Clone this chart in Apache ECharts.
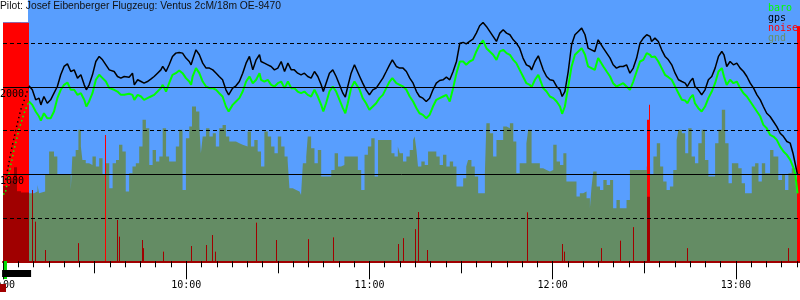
<!DOCTYPE html>
<html>
<head>
<meta charset="utf-8">
<script src="https://cdn.jsdelivr.net/npm/echarts@6/dist/echarts.min.js"></script>
<style>
  html, body {margin:0;padding:0;background:#fff;}
  #chart {width:800px;height:300px;}
</style>
</head>
<body>
<div id="chart"></div>
<script>
// time = minutes after 09:00, altitude in m
var timeLabels = ['9:00', '10:00', '11:00', '12:00', '13:00'];

var gpsTow = [[0.9,934],[2.5,1241],[4.2,1509],[5.8,1739],[7.4,1892],[8.5,2015]];
var baroTow = [[0,773],[0.7,773],[2.0,1011],[3.6,1279],[5.2,1509],[6.9,1700],[8.5,1835]];

var gpsTrack = [[8.5,2015],[9.6,1969],[10.7,1854],[11.8,1873],[12.4,1796],[13.4,1892],[14.5,1815],[15.6,1854],[16.7,1930],[17.8,2007],[18.9,2141],[20.0,2237],[21.1,2267],[22.2,2179],[23.3,2198],[24.4,2103],[25.5,2141],[26.6,2026],[27.3,1969],[28.2,2026],[29.3,2141],[30.4,2294],[31.5,2352],[32.6,2313],[33.7,2256],[34.8,2198],[36.4,2179],[37.5,2122],[38.6,2103],[39.7,2122],[41.3,2114],[42.4,2160],[43.0,2026],[44.1,2084],[45.2,2064],[46.2,2045],[47.3,2064],[48.4,2091],[49.5,2122],[50.6,2160],[51.7,2198],[52.3,2237],[53.4,2179],[54.4,2256],[55.5,2352],[56.6,2390],[57.7,2398],[58.8,2390],[59.9,2333],[61.0,2294],[61.6,2256],[62.1,2313],[63.2,2428],[64.3,2371],
  [65.4,2275],[66.5,2218],[67.6,2218],[68.7,2198],[69.8,2160],[70.8,2122],[71.9,2084],[73.0,1969],[73.9,1911],[75.2,1988],[76.3,2015],[77.4,2064],[78.5,2160],[79.6,2275],[80.7,2352],[81.8,2198],[82.9,2313],[84.0,2371],[84.5,2294],[85.6,2275],[86.7,2256],[87.8,2237],[88.9,2198],[90.0,2218],[91.1,2294],[92.2,2179],[93.3,2275],[94.4,2198],[95.4,2198],[96.5,2160],[97.6,2141],[98.7,2160],[99.8,2122],[100.9,2103],[102.0,2179],[103.1,2122],[104.2,2026],[104.9,1949],[105.8,2045],[106.9,2160],[108.0,2198],[109.1,2122],[110.2,2026],[111.3,1930],[112.1,1884],[112.9,2007],[114.0,2160],[115.1,2256],[115.7,2275],[116.8,2122],[117.8,2045],[118.9,1969],[120.0,1911],[121.1,1969],[122.2,1988],[123.3,2045],[124.4,2103],[125.5,2179],[126.6,2256],[127.5,2313],[128.8,2237],
  [129.9,2218],[131.0,2218],[132.1,2179],[133.2,2103],[134.3,2045],[135.4,1949],[136.4,1892],[137.5,1873],[138.6,1835],[139.7,1873],[140.8,1969],[141.9,2045],[143.0,2076],[144.1,2084],[145.2,2114],[146.3,2084],[147.4,2179],[148.5,2294],[149.6,2505],[150.7,2513],[151.7,2497],[152.8,2524],[153.9,2551],[155.0,2620],[156.1,2704],[157.2,2742],[158.3,2697],[159.4,2639],[160.5,2582],[161.6,2524],[162.7,2620],[163.8,2658],[164.9,2620],[166.0,2601],[167.1,2543],[168.1,2505],[169.2,2447],[170.3,2333],[171.4,2256],[172.5,2237],[173.1,2198],[174.2,2294],[175.3,2359],[175.8,2371],[176.9,2198],[178.0,2122],[179.1,2084],[180.2,2076],[181.3,2007],[182.4,1969],[183.1,1892],[184.0,1949],[185.1,2179],[186.2,2486],[187.3,2601],[188.4,2639],[189.5,2677],[190.6,2601],[191.6,2447],[192.7,2428],[193.8,2409],[194.9,2543],
  [195.5,2524],[196.6,2447],[197.7,2390],[198.8,2333],[199.8,2256],[200.9,2218],[202.0,2237],[203.1,2237],[204.2,2256],[205.3,2160],[206.4,2218],[207.5,2333],[208.6,2505],[209.7,2562],[210.8,2601],[211.9,2582],[212.4,2524],[213.5,2562],[214.6,2524],[215.7,2428],[216.8,2352],[217.9,2313],[219.0,2256],[220.1,2160],[221.2,2084],[222.3,2064],[223.4,2045],[224.1,2007],[225.0,2064],[225.9,2103],[226.6,2007],[227.7,1969],[228.8,1911],[229.9,1969],[231.0,2084],[232.1,2122],[233.2,2218],[234.3,2352],[235.4,2409],[236.1,2371],[237.0,2237],[238.1,2294],[239.2,2256],[240.3,2275],[241.4,2218],[242.5,2179],[243.6,2122],[244.7,2045],[245.8,1988],[246.9,1911],[248.0,1854],[249.0,1777],[250.1,1700],[251.2,1662],[252.3,1605],[253.4,1547],[254.5,1471],[255.6,1432],[256.7,1375],[257.8,1356],[258.7,1241],[259.4,1126],[260.2,992]];

var baroTrack = [[8.5,1835],[9.6,1796],[10.7,1720],[11.8,1662],[12.4,1616],[13.4,1700],[14.5,1643],[15.6,1643],[16.7,1720],[17.8,1873],[18.9,1969],[20.0,2026],[21.1,2053],[22.2,1969],[23.3,1969],[24.4,1911],[25.5,1930],[26.6,1854],[27.3,1777],[28.2,1835],[29.3,1930],[30.4,2084],[31.5,2141],[32.6,2103],[33.7,2064],[34.8,1988],[36.4,1969],[37.5,1949],[38.6,1911],[39.7,1911],[41.3,1923],[42.4,1911],[43.0,1854],[44.1,1911],[45.2,1892],[46.2,1854],[47.3,1873],[48.4,1892],[49.5,1911],[50.6,1949],[51.7,1988],[52.3,2026],[53.4,1949],[54.4,2045],[55.5,2141],[56.6,2160],[57.7,2191],[58.8,2160],[59.9,2103],[61.0,2064],[61.6,2026],[62.1,2122],[63.2,2218],[64.3,2160],
  [65.4,2064],[66.5,2007],[67.6,1988],[68.7,1988],[69.8,1969],[70.8,1930],[71.9,1892],[73.0,1777],[73.9,1720],[75.2,1796],[76.3,1835],[77.4,1873],[78.5,1949],[79.6,2064],[80.7,2122],[81.8,2045],[82.9,2084],[84.0,2160],[84.5,2084],[85.6,2064],[86.7,2084],[87.8,2026],[88.9,2007],[90.0,2045],[91.1,2064],[92.2,1988],[93.3,2064],[94.4,1988],[95.4,1988],[96.5,1949],[97.6,1930],[98.7,1949],[99.8,1911],[100.9,1892],[102.0,1969],[103.1,1892],[104.2,1796],[104.9,1720],[105.8,1815],[106.9,1949],[108.0,2007],[109.1,1949],[110.2,1854],[111.3,1758],[112.1,1700],[112.9,1815],[114.0,1988],[115.1,2064],[115.7,2045],[116.8,1969],[117.8,1873],[118.9,1815],[120.0,1739],[121.1,1777],[122.2,1815],[123.3,1873],[124.4,1911],[125.5,1988],[126.6,2064],[127.5,2103],[128.8,2045],
  [129.9,2026],[131.0,2007],[132.1,1969],[133.2,1892],[134.3,1835],[135.4,1758],[136.4,1700],[137.5,1681],[138.6,1643],[139.7,1681],[140.8,1777],[141.9,1854],[143.0,1873],[144.1,1892],[145.2,1911],[146.3,1835],[147.4,1988],[148.5,2160],[149.6,2294],[150.7,2294],[151.7,2256],[152.8,2294],[153.9,2313],[155.0,2409],[156.1,2486],[157.2,2536],[158.3,2447],[159.4,2409],[160.5,2371],[161.6,2313],[162.7,2409],[163.8,2428],[164.9,2390],[166.0,2371],[167.1,2313],[168.1,2275],[169.2,2198],[170.3,2122],[171.4,2045],[172.5,2026],[173.1,2000],[174.2,2084],[175.3,2141],[175.8,2160],[176.9,1988],[178.0,1949],[179.1,1892],[180.2,1873],[181.3,1835],[182.4,1777],[183.1,1693],[184.0,1777],[185.1,2007],[186.2,2237],[187.3,2371],[188.4,2409],[189.5,2447],[190.6,2371],[191.6,2237],[192.7,2218],[193.8,2198],[194.9,2333],
  [195.5,2313],[196.6,2237],[197.7,2179],[198.8,2122],[199.8,2045],[200.9,2007],[202.0,2026],[203.1,2045],[204.2,2007],[205.3,1969],[206.4,2064],[207.5,2179],[208.6,2294],[209.7,2313],[210.8,2390],[211.9,2371],[212.4,2344],[213.5,2352],[214.6,2294],[215.7,2218],[216.8,2141],[217.9,2114],[219.0,2084],[220.1,2007],[221.2,1930],[222.3,1854],[223.4,1846],[224.1,1815],[225.0,1873],[225.9,1911],[226.6,1815],[227.7,1758],[228.8,1720],[229.9,1777],[231.0,1873],[232.1,1949],[233.2,2045],[234.3,2179],[235.4,2218],[236.1,2122],[237.0,2026],[238.1,2084],[239.2,2045],[240.3,2064],[241.4,1988],[242.5,1930],[243.6,1892],[244.7,1835],[245.8,1777],[246.9,1720],[248.0,1662],[249.0,1566],[250.1,1528],[251.2,1451],[252.3,1432],[253.4,1394],[254.5,1317],[255.6,1260],[256.7,1222],[257.8,1164],[258.7,1088],[259.4,1011],[260.2,781]];

// terrain below the glider, value holds until the next point
var gndTrack = [[0,870],[1.0,920],[2.0,1060],[2.7,960],[3.5,870],[5.0,800],[7.0,780],[8.5,800],[9.1,781],[10.2,800],[11.3,877],[11.8,781],[12.4,800],[13.8,992],[15.1,1260],[16.7,1202],[17.8,992],[22.2,819],[22.7,1202],[23.8,1279],[24.7,1509],[25.5,1317],[26.0,1164],[27.1,1126],[28.2,1107],[29.3,1202],[30.4,1088],[31.5,1183],[32.6,992],[33.7,1126],[34.8,838],[35.9,1126],[37.0,1164],[38.0,1337],[39.1,1260],[40.2,800],[41.3,1011],[42.4,1088],[43.5,1126],[44.6,1317],[45.7,1624],[46.8,1528],[47.9,1107],[49.0,1279],[50.1,1145],[51.2,1202],[52.3,1528],[53.4,1202],[54.4,1145],[56.6,1317],[57.7,1509],[58.8,819],[59.9,1413],[61.0,1547],[61.9,1777],[63.2,1720],
  [64.3,1547],[64.8,1241],[65.4,1432],[66.5,1528],[67.6,1432],[68.7,1471],[69.7,1317],[70.8,1528],[71.9,1566],[73.0,1432],[74.1,1375],[76.3,1356],[77.4,1337],[78.5,1317],[80.1,1490],[81.2,1317],[82.3,1394],[83.4,1260],[84.5,1088],[85.6,1490],[86.7,1432],[87.8,1317],[88.9,1241],[90.0,1432],[91.1,1317],[92.2,1202],[93.2,1164],[93.8,838],[94.9,819],[96.0,800],[97.1,781],[97.6,762],[98.2,1126],[99.3,1202],[99.8,1432],[100.9,1298],[102.0,1126],[103.1,1279],[104.2,973],[107.5,1049],[108.6,1241],[109.7,1088],[110.7,1107],[111.8,1202],[116.2,1049],[117.3,819],[118.4,1222],[119.5,1317],[120.6,1413],[121.7,973],[122.8,1394],[127.2,1241],[128.2,1202],[129.3,1317],
  [129.9,1241],[131.0,1145],[132.1,1202],[133.2,1279],[134.3,1394],[134.8,1432],[135.4,1279],[135.9,1088],[137.0,1145],[138.1,1107],[139.2,1260],[141.9,1202],[143.0,1107],[144.1,1222],[145.2,1088],[146.3,1145],[147.4,1088],[148.5,858],[150.7,953],[151.7,1088],[152.3,1164],[153.4,1088],[154.5,973],[155.6,781],[157.8,1011],[158.3,1586],[159.4,1471],[160.5,1202],[161.6,1394],[163.8,1547],[164.9,1528],[166.0,1586],[167.1,1375],[168.1,1011],[169.2,1126],[171.4,1356],[172.0,1509],[173.1,1126],[175.8,1068],[176.9,1049],[178.0,1030],[179.1,1049],[180.2,1337],[181.3,1145],[182.4,1107],[183.5,1241],[184.5,915],[187.8,743],[188.9,781],[190.0,800],[191.1,724],[192.2,608],[192.7,838],[193.3,1030],[194.4,858],
  [195.5,819],[196.6,934],[197.7,877],[198.8,934],[199.8,608],[200.9,704],[202.0,608],[204.2,704],[205.3,1049],[210.8,1088],[211.9,992],[213.0,1202],[214.1,1356],[215.2,1088],[216.2,915],[217.3,819],[218.4,858],[219.5,1049],[220.6,1394],[221.2,1509],[222.3,1471],[223.4,1241],[224.4,1528],[225.5,1202],[226.6,1126],[227.7,1356],[228.8,1509],[229.9,1164],[231.0,973],[233.2,1356],[234.3,1509],[235.4,1739],[236.5,1356],[237.6,896],[238.7,1126],[240.8,1068],[241.9,896],[243.0,781],[245.2,1088],[246.3,1126],[247.4,915],[248.5,1126],[249.6,1011],[251.2,1279],[252.3,1202],[253.9,934],[255.1,992],[256.1,819],[257.2,1011],[258.3,1068],[259.4,934],[260.0,781],[261,781]];

// noise: [from, to, peak level, dark (smoothed) level]
var noiseMarks = [[0,2.3,2740,865],[2.3,3.6,2740,920],[3.6,4.6,2740,1080],[4.6,5.9,2740,805],[5.9,8.5,2740,790],
  [9.5,9.8,819,819],[10.4,10.7,455,455],[13.7,14.0,130,130],[24.6,24.9,206,206],[33.4,33.7,1451,0],[37.4,37.7,475,475],[37.9,38.2,283,283],[45.4,45.7,245,245],[45.9,46.2,149,149],[52.5,52.8,111,111],[61.5,61.8,176,176],[66.6,66.9,187,187],[68.6,68.9,302,302],[69.4,69.7,110,110],[83.0,83.3,444,444],[89.3,89.6,245,245],[100.0,100.3,252,252],[108.2,108.5,272,272],[129.2,129.5,199,199],[130.9,131.2,264,264],[135.0,135.3,367,367],[135.8,136.1,567,567],[138.7,139.0,130,130],[171.5,171.8,559,559],[183.0,183.3,199,199],[183.6,183.9,111,111],[195.9,196.2,149,149],[202.2,202.5,237,237],[206.3,206.6,390,390],[211.0,211.4,1624,740],[211.4,211.9,1796,740],[224.0,224.3,149,149],[257.1,257.4,149,149],[260.1,261,2700,0]];

var engineRun = [0.3, 1.3];
var towRun = [-0.3, 9.2];

var chart = echarts.init(document.getElementById('chart'));

var xBase = {
  type: 'value', min: 0, max: 261, position: 'bottom', gridIndex: 0, z: 10,
  axisLine: {show: false, onZero: false},
  splitLine: {show: false},
  axisLabel: {show: false}
};

var option = {
  animation: false,
  title: {
    text: 'Pilot: Josef Eibenberger Flugzeug: Ventus 2cM/18m OE-9470',
    left: 0, top: 1, padding: 0,
    textStyle: {fontFamily: 'Liberation Sans', fontSize: 10.3, fontWeight: 'normal', color: '#111'}
  },
  legend: {
    orient: 'vertical', left: 762, top: 3, padding: 0, itemGap: 0,
    itemWidth: 0, itemHeight: 0, selectedMode: false,
    itemStyle: {opacity: 0}, lineStyle: {opacity: 0},
    textStyle: {fontFamily: 'DejaVu Sans Mono', fontSize: 10, lineHeight: 10},
    data: [
      {name: 'baro', textStyle: {color: '#00ff00'}},
      {name: 'gps', textStyle: {color: '#000'}},
      {name: 'noise', textStyle: {color: '#ff0000'}},
      {name: 'gnd', textStyle: {color: '#6a8f66'}}
    ]
  },
  grid: {
    left: 3, right: 0, top: 0, bottom: 38.7,
    show: true, backgroundColor: '#589efe', borderWidth: 0,
    outerBoundsMode: 'none'
  },
  xAxis: [
    echarts.util.merge({
      interval: 5,
      axisLine: {show: true, onZero: false, lineStyle: {color: '#a00000', width: 2}},
      axisTick: {show: true, length: 6, lineStyle: {color: '#000', width: 1}}
    }, xBase),
    echarts.util.merge({
      interval: 30,
      axisTick: {show: true, length: 12, lineStyle: {color: '#000', width: 1}}
    }, xBase),
    echarts.util.merge({
      interval: 60,
      axisTick: {show: true, length: 18, lineStyle: {color: '#000', width: 1}},
      axisLabel: {
        show: true, margin: 19, color: '#000',
        fontFamily: 'DejaVu Sans Mono', fontSize: 10,
        formatter: function (v) { return v % 60 === 0 ? timeLabels[v / 60] : ''; }
      }
    }, xBase)
  ],
  yAxis: [
    {
      type: 'value', min: 0, max: 3000, interval: 1000, z: 10,
      axisLine: {show: false}, axisTick: {show: false},
      splitLine: {show: true, showMinLine: false, showMaxLine: false, lineStyle: {color: '#000', width: 1}},
      axisLabel: {
        inside: true, margin: -3, color: '#000', verticalAlign: 'top',
        fontFamily: 'DejaVu Sans Mono', fontSize: 10, lineHeight: 10, padding: [2, 0, 0, 0],
        formatter: function (v) { return (v === 1000 || v === 2000) ? String(v) : ''; }
      }
    },
    {
      type: 'value', min: 0, max: 3000, interval: 500, z: 9,
      axisLine: {show: false}, axisTick: {show: false}, axisLabel: {show: false},
      splitLine: {show: true, showMinLine: false, showMaxLine: false, lineStyle: {color: '#000', width: 1, type: [4, 3]}}
    }
  ],
  series: [
    {
      name: 'gnd', type: 'line', step: 'end', data: gndTrack, z: 1,
      symbol: 'none', lineStyle: {width: 0}, itemStyle: {color: '#6a8f66'},
      areaStyle: {color: '#648c64', opacity: 1}
    },
    {
      name: 'noise', type: 'custom', data: noiseMarks, z: 2,
      itemStyle: {color: '#ff0000'},
      encode: {x: [0, 1], y: 2},
      renderItem: function (params, api) {
        var t0 = api.value(0), t1 = api.value(1), v = api.value(2), d = api.value(3);
        var a = api.coord([t0, v]), b = api.coord([t1, 0]), c = api.coord([t0, d]);
        var x0 = Math.round(a[0]);
        var w = Math.max(Math.round(b[0]) - x0, 1);
        return {type: 'group', children: [
          {type: 'rect', shape: {x: x0, y: a[1], width: w, height: b[1] - a[1]}, style: {fill: '#ff0000'}},
          {type: 'rect', shape: {x: x0, y: c[1], width: w, height: b[1] - c[1]}, style: {fill: '#a00000'}}
        ]};
      }
    },
    {
      name: 'baroTow', type: 'line', data: baroTow, z: 3, symbol: 'none',
      lineStyle: {color: '#00ff00', width: 1.5, type: [1.5, 3]}
    },
    {
      name: 'gpsTow', type: 'line', data: gpsTow, z: 3, symbol: 'none',
      lineStyle: {color: '#000', width: 1.5, type: [1.5, 3]}
    },
    {
      name: 'baro', type: 'line', data: baroTrack, z: 3, symbol: 'none',
      itemStyle: {color: '#00ff00'}, lineStyle: {color: '#00ff00', width: 2}
    },
    {
      name: 'gps', type: 'line', data: gpsTrack, z: 4, symbol: 'none',
      itemStyle: {color: '#000'}, lineStyle: {color: '#000', width: 1.5}
    }
  ]
};

chart.setOption(option);

// small markers under the time axis
var gx0 = chart.convertToPixel({xAxisIndex: 0}, engineRun[0]);
var gx1 = chart.convertToPixel({xAxisIndex: 0}, engineRun[1]);
var tx0 = chart.convertToPixel({xAxisIndex: 0}, towRun[0]);
var tx1 = chart.convertToPixel({xAxisIndex: 0}, towRun[1]);
chart.setOption({
  graphic: [
    {type: 'rect', left: 0, top: 0, z: 5, shape: {width: 28, height: 22}, style: {fill: '#fff'}},
    {type: 'rect', z: 20, shape: {x: gx0, y: 261, width: gx1 - gx0, height: 18}, style: {fill: '#00dd00'}},
    {type: 'rect', z: 20, shape: {x: tx0, y: 270, width: tx1 - tx0, height: 7}, style: {fill: '#000'}},
    {type: 'rect', z: 20, shape: {x: 0, y: 284, width: 6, height: 8}, style: {fill: '#a00000'}}
  ]
});

window.onresize = function () {
  chart.resize();
};
</script>
</body>
</html>
